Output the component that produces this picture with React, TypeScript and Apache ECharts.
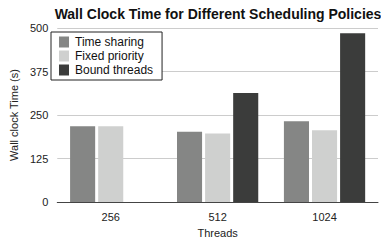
import React, { useEffect, useRef } from "react";
import * as echarts from "echarts";

const categories = ["256", "512", "1024"];
const timeSharing = [218, 202, 232];
const fixedPriority = [218, 197, 206];
const boundThreads = [null, 313, 485];
const yTicks = [0, 125, 250, 375, 500];

export default function App() {
  const ref = useRef<HTMLDivElement>(null);
  useEffect(() => {
    const chart = echarts.init(ref.current!, null, { renderer: "svg" });
    const font = "Liberation Sans, Arial, sans-serif";
    chart.setOption({
      animation: false,
      backgroundColor: "#fff",
      textStyle: { fontFamily: font },
      title: {
        text: "Wall Clock Time for Different Scheduling Policies",
        left: 213,
        textAlign: "center",
        top: 2,
        textStyle: { fontSize: 14, fontWeight: "bold", color: "#111", fontFamily: font },
      },
      legend: {
        orient: "vertical",
        left: 51,
        top: 32,
        padding: [4, 9, 4, 8],
        borderColor: "#222",
        borderWidth: 1,
        backgroundColor: "#fff",
        itemWidth: 10,
        itemHeight: 11,
        itemGap: 2,
        icon: "rect",
        textStyle: { fontSize: 12, color: "#111", fontFamily: font, padding: [0, 0, 0, 1] },
        data: ["Time sharing", "Fixed priority", "Bound threads"],
      },
      grid: { left: 48, right: 3, top: 28, bottom: 38 },
      xAxis: {
        type: "category",
        data: categories,
        name: "Threads",
        nameLocation: "middle",
        nameGap: 25,
        nameTextStyle: { fontSize: 11, color: "#222", fontFamily: font },
        axisLine: { lineStyle: { color: "#444", width: 1 } },
        axisTick: { show: false },
        axisLabel: { fontSize: 11, color: "#222", margin: 9 },
      },
      yAxis: {
        type: "value",
        min: 0,
        max: 500,
        interval: 125,
        name: "Wall clock Time (s)",
        nameLocation: "middle",
        nameGap: 36,
        nameTextStyle: { fontSize: 11, color: "#222", fontFamily: font },
        axisLine: { show: false },
        axisTick: { show: false },
        axisLabel: { fontSize: 11, color: "#222", margin: 9 },
        splitLine: { lineStyle: { color: "#cccccc", width: 1 } },
      },
      series: [
        { name: "Time sharing", type: "bar", data: timeSharing, itemStyle: { color: "#858685" }, barGap: "12%", barCategoryGap: "24%" },
        { name: "Fixed priority", type: "bar", data: fixedPriority, itemStyle: { color: "#cfd0cf" } },
        { name: "Bound threads", type: "bar", data: boundThreads, itemStyle: { color: "#3b3c3b" } },
      ],
    });
    void yTicks;
    return () => chart.dispose();
  }, []);
  return <div ref={ref} style={{ width: 381, height: 243, position: "absolute", left: 0, top: 0 }} />;
}
